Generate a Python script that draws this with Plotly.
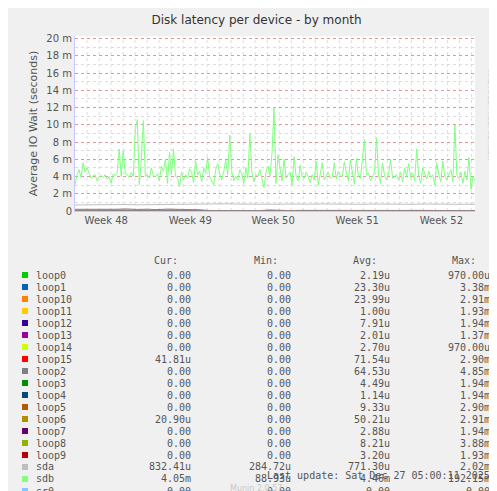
import plotly.graph_objects as go
import numpy as np

# ---- data (values in milliseconds) ----
sdb = [3.0,4.2,4.8,3.9,5.6,4.5,5.0,4.3,3.8,4.1,4.2,3.5,4.0,4.1,3.9,4.2,3.7,4.0,3.2,4.3,
       4.1,4.5,7.2,4.0,7.0,4.3,4.2,3.9,4.5,4.0,9.5,10.6,3.0,6.0,10.5,4.0,4.2,3.8,5.0,4.1,
       4.0,4.3,3.5,5.2,4.6,6.0,3.2,6.8,4.2,7.2,4.0,3.8,2.8,4.5,3.6,4.2,3.8,4.9,4.5,3.3,
       5.8,4.2,4.6,3.4,5.0,4.4,6.2,4.0,3.5,3.0,4.8,5.5,4.3,3.6,4.6,5.9,4.2,8.8,4.6,3.5,
       4.0,3.6,4.8,4.3,3.2,5.0,3.8,9.0,4.5,3.4,4.2,4.0,4.8,3.9,2.7,4.5,5.2,4.1,6.6,12.0,
       3.2,6.5,4.8,3.5,6.0,3.8,4.2,4.5,3.0,6.3,4.0,3.5,5.3,4.0,3.8,4.5,4.0,3.3,4.2,3.6,
       5.8,3.0,4.3,5.6,3.6,4.0,4.5,3.8,4.0,5.6,3.7,4.6,4.1,4.0,5.7,4.4,3.5,5.9,4.2,3.1,
       6.1,4.0,3.8,6.3,8.3,4.2,4.4,3.5,4.0,4.5,8.5,4.2,3.2,5.6,4.1,3.6,4.3,6.0,3.8,4.0,
       4.2,3.6,4.5,3.4,5.0,4.0,5.5,3.8,4.4,3.5,7.2,4.0,3.2,5.0,4.3,3.7,4.6,3.9,4.2,3.0,
       5.6,4.2,3.4,5.8,4.0,3.6,4.3,4.8,3.4,10.0,4.1,3.8,4.5,3.2,4.6,3.6,6.2,2.5,4.0,3.5]
sda = [0.70,0.72,0.74,0.71,0.73,0.75,0.72,0.74,0.76,0.73,0.78,0.80,0.82,0.79,0.81,0.84,0.80,0.78,0.82,0.80,
       0.79,0.81,0.78,0.80,0.82,0.79,0.77,0.80,0.78,0.81,0.79,0.82,0.80,0.78,0.81,0.84,0.80,0.78,0.76,0.79]
loop2 = [0.20,0.18,0.22,0.15,0.20,0.24,0.18,0.21,0.16,0.22,0.19,0.20,0.14,0.05,0.02,0.0,0.0,0.0,0.0,0.0,
         0.0,0.0,0.0,0.0,0.0,0.0,0.0,0.0,0.0,0.0,0.0,0.0,0.0,0.0,0.0,0.0,0.0,0.0,0.0,0.0]
loop15 = [0.0,0.0,0.0,0.0,0.0,0.0,0.0,0.0,0.0,0.0,0.0,0.0,0.0,0.06,0.05,0.08,0.06,0.07,0.05,0.10,
          0.06,0.05,0.07,0.06,0.09,0.05,0.06,0.07,0.05,0.06,0.08,0.05,0.06,0.07,0.05,0.06,0.07,0.05,0.06,0.05]
loop6 = [0.10,0.12,0.08,0.14,0.10,0.12,0.09,0.13,0.10,0.12,0.08,0.11,0.10,0.05,0.04,0.04,0.05,0.04,0.04,0.05,
         0.04,0.05,0.04,0.04,0.05,0.04,0.05,0.04,0.04,0.05,0.04,0.05,0.04,0.04,0.05,0.04,0.05,0.04,0.04,0.04]

days_span = 33.3
week_pos = [2.6, 9.6, 16.5, 23.5, 30.5]
week_labels = ["Week 48", "Week 49", "Week 50", "Week 51", "Week 52"]
ytick_vals = [0, 2, 4, 6, 8, 10, 12, 14, 16, 18, 20]
ytick_text = ["0", "2 m", "4 m", "6 m", "8 m", "10 m", "12 m", "14 m", "16 m", "18 m", "20 m"]

names = ["loop0","loop1","loop10","loop11","loop12","loop13","loop14","loop15","loop2",
         "loop3","loop4","loop5","loop6","loop7","loop8","loop9","sda","sdb","sr0"]
colors = ["#00cc00","#0066b3","#ff8000","#ffcc00","#330099","#990099","#ccff00","#ff0000",
          "#808080","#008f00","#00487d","#b35a00","#b38f00","#6b006b","#8fb300","#b30000",
          "#bebebe","#80ff80","#80c9ff"]
cur = ["0.00"]*7 + ["41.81u"] + ["0.00"]*4 + ["20.90u"] + ["0.00"]*3 + ["832.41u","4.05m","0.00"]
mins = ["0.00"]*16 + ["284.72u","88.93u","0.00"]
avgs = ["2.19u","23.30u","23.99u","1.00u","7.91u","2.01u","2.70u","71.54u","64.53u","4.49u",
        "1.14u","9.33u","50.21u","2.88u","8.21u","3.20u","771.30u","4.46m","0.00"]
maxs = ["970.00u","3.38m","2.91m","1.93m","1.94m","1.37m","970.00u","2.90m","4.85m","1.94m",
        "1.94m","2.90m","2.91m","1.94m","3.88m","1.93m","2.02m","192.15m","0.00"]

series = {"loop2": loop2, "loop6": loop6, "loop15": loop15, "sda": sda, "sdb": sdb}

fig = go.Figure()
for name, col in zip(names, colors):
    vals = series.get(name, [0.0, 0.0])
    x = np.linspace(0, days_span, len(vals))
    fig.add_trace(go.Scatter(x=x, y=vals, mode="lines", line=dict(color=col, width=1),
                             showlegend=False, hoverinfo="skip"))

# plot area in pixels: x 67..467, y 28..203
L, R, T, B = 67, 467, 28, 203
def px(x): return (x - L) / (R - L)
def py(y): return (B - y) / (B - T)

mono = dict(family="DejaVu Sans Mono", size=10, color="#555555")
ann = []
for txt, xr in [("Cur:", 172), ("Min:", 272), ("Avg:", 371), ("Max:", 470)]:
    ann.append(dict(x=px(xr), y=py(253), text=txt, xanchor="right"))
shapes = []
for i, n in enumerate(names):
    yy = 267 + 12 * i
    shapes.append(dict(type="rect", xref="paper", yref="paper", x0=px(14), x1=px(20),
                       y0=py(yy - 3), y1=py(yy + 3), fillcolor=colors[i], line_width=0))
    ann.append(dict(x=px(26), y=py(yy), text=n, xanchor="left"))
    ann.append(dict(x=px(185), y=py(yy), text=cur[i], xanchor="right"))
    ann.append(dict(x=px(285), y=py(yy), text=mins[i], xanchor="right"))
    ann.append(dict(x=px(384), y=py(yy), text=avgs[i], xanchor="right"))
    ann.append(dict(x=px(484), y=py(yy), text=maxs[i], xanchor="right"))
ann.append(dict(x=px(484), y=py(467), text="Last update: Sat Dec 27 05:00:11 2025", xanchor="right"))
for a in ann:
    a.update(xref="paper", yref="paper", yanchor="middle", showarrow=False, font=mono)
ann.append(dict(x=px(248), y=py(480), xref="paper", yref="paper", text="Munin 2.0.57",
                yanchor="middle", showarrow=False,
                font=dict(family="DejaVu Sans", size=8, color="#c8c8c8")))
ann.append(dict(x=px(488), y=py(60), xref="paper", yref="paper", text="RRDTOOL / TOBI OETIKER",
                textangle=90, showarrow=False, font=dict(family="DejaVu Sans", size=7, color="#c8c8c8")))

for d in range(1, 34):
    shapes.append(dict(type="line", xref="x", yref="paper", x0=d, x1=d, y0=0, y1=1,
                       line=dict(color="#dddddd", width=1, dash="dot"), layer="below"))

fig.update_layout(
    width=497, height=491,
    margin=dict(l=L, r=497 - R, t=T, b=491 - B, autoexpand=False),
    paper_bgcolor="#f0f0f0", plot_bgcolor="#ffffff",
    title=dict(text="Disk latency per device - by month", x=0.5, y=0.975, xanchor="center",
               yanchor="middle", automargin=False,
               font=dict(family="DejaVu Sans", size=12, color="#333333")),
    annotations=ann, shapes=shapes,
    font=dict(family="DejaVu Sans", size=10, color="#555555"),
)
fig.update_xaxes(range=[0, days_span], tickmode="array", tickvals=week_pos, ticktext=week_labels,
                 showgrid=False, showline=True, linecolor="#c8c8ff", zeroline=False,
                 automargin=False)
fig.update_yaxes(range=[0, 20.3], tickmode="array", tickvals=ytick_vals, ticktext=ytick_text,
                 gridcolor="rgba(230,120,120,0.7)", griddash="dot",
                 minor=dict(dtick=1, showgrid=True, gridcolor="#dddddd", griddash="dot"),
                 showline=True, linecolor="#c8c8ff", zeroline=False, automargin=False,
                 title=dict(text="Average IO Wait (seconds)", font=dict(size=11), standoff=6))

fig.write_html("out.html")
